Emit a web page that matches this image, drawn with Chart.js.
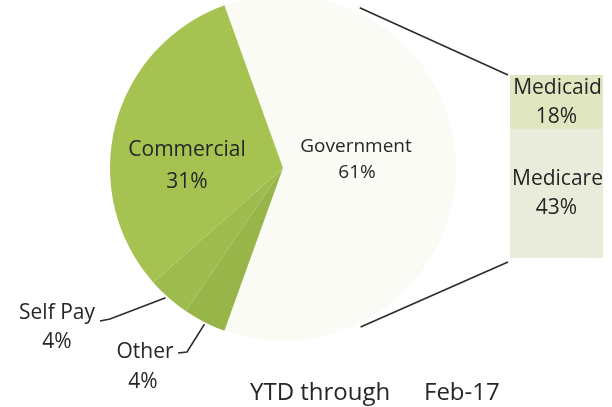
<!DOCTYPE html>
<html>
<head>
<meta charset="utf-8">
<style>
    html, body { margin: 0; padding: 0; background: #ffffff; }
    #wrap { position: relative; width: 612px; height: 407px; overflow: hidden; background: #ffffff; }
    #barChart { position: absolute; left: 510px; top: 75px; z-index: 0; }
    #pieChart { position: absolute; left: 0; top: -5px; z-index: 1; }
</style>
</head>
<body>
<div id="wrap">
    <canvas id="barChart" width="93" height="183"></canvas>
    <canvas id="pieChart" width="612" height="412"></canvas>
</div>
<script src="https://cdn.jsdelivr.net/npm/chart.js"></script>
<script>
    // payer mix, clockwise from the split-out Government slice
    const categories = ['Government', 'Other', 'Self Pay', 'Commercial'];
    const shares = [61, 4, 4, 31];
    const pieColours = ['#fafbf4', '#98b54a', '#9ebb4e', '#a6c352'];

    // Government broken out in the bar (bottom to top)
    const subCategories = ['Medicare', 'Medicaid'];
    const subShares = [43, 18];
    const barColours = ['#e9ecda', '#dfe6c0'];

    const footer = ['YTD through', 'Feb-17'];

    (() => {
        const FONT = '"Open Sans", "Noto Sans", sans-serif';
        const TEXT = '#262626';
        const pieCanvas = document.getElementById('pieChart');
        const barCanvas = document.getElementById('barChart');
        const PIE_TOP = -5;

        const barChart = new Chart(barCanvas.getContext('2d'), {
            type: 'bar',
            data: {
                labels: [''],
                datasets: subCategories.map((name, i) => ({
                    label: name,
                    data: [subShares[i]],
                    backgroundColor: barColours[i],
                    borderWidth: 0,
                    barPercentage: 1,
                    categoryPercentage: 1
                }))
            },
            options: {
                responsive: false,
                animation: false,
                events: [],
                layout: { padding: 0 },
                plugins: { legend: { display: false }, tooltip: { enabled: false } },
                scales: {
                    x: { stacked: true, display: false },
                    y: { stacked: true, display: false, min: 0, max: subShares.reduce((a, b) => a + b, 0) }
                }
            }
        });

        function text(ctx, str, x, y, size) {
            ctx.font = size + 'px ' + FONT;
            ctx.fillText(str, x, y);
        }

        function edgePoint(arc, frac) {
            // point on the outer rim, frac = 0.5 for the middle of the slice
            const a = arc.startAngle + (arc.endAngle - arc.startAngle) * frac;
            return [arc.x + Math.cos(a) * arc.outerRadius, arc.y + Math.sin(a) * arc.outerRadius + PIE_TOP];
        }

        const labelPlugin = {
            id: 'pieOfBar',
            afterDraw(chart) {
                const ctx = chart.ctx;
                const arcs = chart.getDatasetMeta(0).data;
                const cx = arcs[0].x, cy = arcs[0].y + PIE_TOP, r = arcs[0].outerRadius;
                ctx.save();
                ctx.translate(0, -PIE_TOP);
                ctx.fillStyle = TEXT;
                ctx.strokeStyle = '#2b2b2b';
                ctx.lineWidth = 1.6;
                ctx.textAlign = 'center';
                ctx.textBaseline = 'middle';

                // inside labels
                text(ctx, categories[3], cx - 96, cy - 18, 21);
                text(ctx, shares[3] + '%', cx - 96, cy + 14, 21);
                text(ctx, categories[0], cx + 73, cy - 21, 19);
                text(ctx, shares[0] + '%', cx + 74, cy + 5, 19);

                // outside labels with leader lines
                text(ctx, categories[2], 57, 313, 21);
                text(ctx, shares[2] + '%', 57, 342, 21);
                text(ctx, categories[1], 145, 352, 21);
                text(ctx, shares[1] + '%', 143, 382, 21);

                let p = edgePoint(arcs[2], 0.5);
                ctx.beginPath();
                ctx.moveTo(100, 321);
                ctx.lineTo(110, 319);
                ctx.lineTo(p[0] - 3, p[1]);
                ctx.stroke();

                p = edgePoint(arcs[1], 0.5);
                ctx.beginPath();
                ctx.moveTo(178, 353);
                ctx.lineTo(187, 352);
                ctx.lineTo(p[0], p[1] + 2);
                ctx.stroke();

                // connectors from the Government slice to the bar
                const bars = barChart.getDatasetMeta(1).data;
                const lower = barChart.getDatasetMeta(0).data[0];
                const bx = barCanvas.offsetLeft + bars[0].x - bars[0].width / 2;
                const byTop = barCanvas.offsetTop + bars[0].y;
                const byBottom = barCanvas.offsetTop + lower.base;
                const gov = arcs[0];
                const mid = (gov.startAngle + gov.endAngle) / 2;
                const spread = 64 * Math.PI / 180;
                ctx.beginPath();
                ctx.moveTo(cx + Math.cos(mid - spread) * (r + 2), cy + Math.sin(mid - spread) * (r + 2) - 3);
                ctx.lineTo(bx - 2, byTop);
                ctx.moveTo(cx + Math.cos(mid + spread) * (r + 4), cy + Math.sin(mid + spread) * (r + 4));
                ctx.lineTo(bx - 2, byBottom + 4);
                ctx.stroke();

                // bar labels
                const barMidX = barCanvas.offsetLeft + bars[0].x;
                const segs = [lower, bars[0]];
                segs.forEach((el, i) => {
                    const top = Math.min(el.y, el.base) + barCanvas.offsetTop;
                    const bot = Math.max(el.y, el.base) + barCanvas.offsetTop;
                    const m = (top + bot) / 2;
                    text(ctx, subCategories[i], barMidX + 1, m - 14, 21);
                    text(ctx, subShares[i] + '%', barMidX, m + 15, 21);
                });

                // footer
                ctx.textAlign = 'left';
                ctx.textBaseline = 'alphabetic';
                text(ctx, footer[0], 250, 400, 24);
                text(ctx, footer[1], 424, 400, 24);
                ctx.restore();
            }
        };

        new Chart(pieCanvas.getContext('2d'), {
            type: 'pie',
            data: {
                labels: categories,
                datasets: [{
                    data: shares,
                    backgroundColor: pieColours,
                    borderWidth: 0,
                    hoverOffset: 0,
                    offset: 0
                }]
            },
            options: {
                responsive: false,
                animation: false,
                events: [],
                rotation: -19.8,
                layout: { padding: { left: 110, right: 156, top: 0, bottom: 66 } },
                plugins: { legend: { display: false }, tooltip: { enabled: false } }
            },
            plugins: [labelPlugin]
        });
    })();
</script>
</body>
</html>
